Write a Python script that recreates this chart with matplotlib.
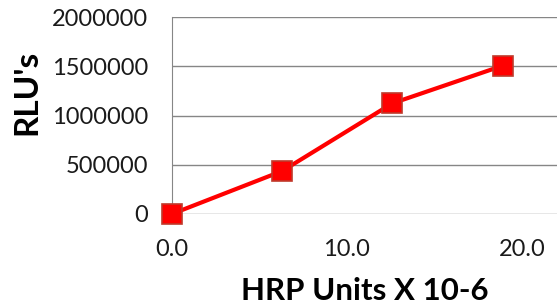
import matplotlib.pyplot as plt

plt.rcParams['font.family'] = ['Lato', 'DejaVu Sans']

hrp_units = [0.0, 6.3, 12.6, 18.9]
rlus = [0, 436000, 1124000, 1506000]
y_ticks = [0, 500000, 1000000, 1500000, 2000000]
x_ticks = [0.0, 10.0, 20.0]

fig = plt.figure(figsize=(5.58, 3.05), dpi=100)
ax = fig.add_axes([0.308, 0.2984, 0.69, 0.6456])

ax.plot(hrp_units, rlus, color='#ff0000', lw=3, marker='s', ms=14.5,
        mfc='#ff0000', mec='#c0392b', mew=1.2, clip_on=False, zorder=3)

ax.set_xlim(0, 22)
ax.set_ylim(0, 2000000)
ax.set_yticks(y_ticks)
ax.set_yticklabels([str(v) for v in y_ticks])
ax.set_xticks(x_ticks)
ax.set_xticklabels([f'{v:.1f}' for v in x_ticks])
ax.tick_params(length=0, labelsize=17, colors='#1a1a1a')
ax.tick_params(axis='y', pad=17)
ax.tick_params(axis='x', pad=18)

ax.grid(axis='y', color='#868686', lw=1)
for s in ['top', 'right', 'bottom']:
    ax.spines[s].set_visible(False)
ax.spines['left'].set_color('#868686')
ax.set_axisbelow(True)

ax.set_ylabel("RLU's", fontsize=24, fontweight='bold')
ax.yaxis.set_label_coords(-0.338, 0.62)
ax.set_xlabel('HRP Units X 10-6', fontsize=22.5, fontweight='bold', labelpad=12)

fig.savefig('out.png', dpi=100)
